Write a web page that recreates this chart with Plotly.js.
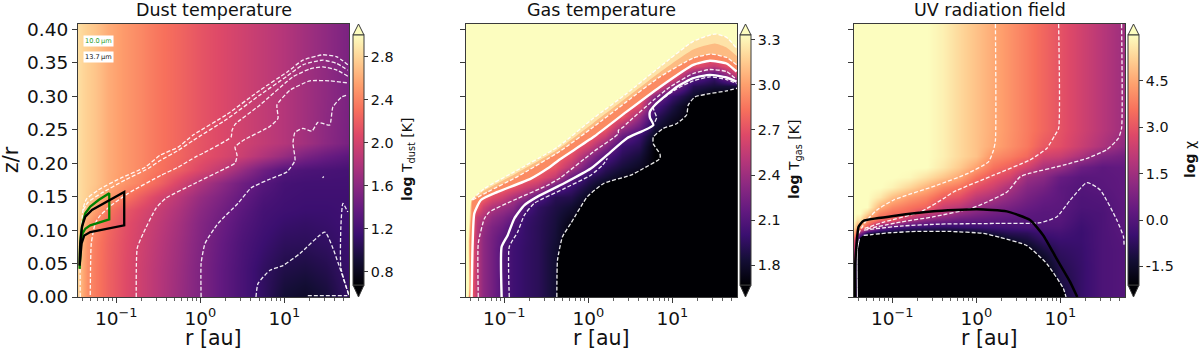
<!DOCTYPE html>
<html><head><meta charset="utf-8">
<script src="https://cdn.plot.ly/plotly-3.0.1.min.js"></script>
<style>html,body{margin:0;padding:0;background:#fff}</style></head>
<body><div id="chart" style="width:1200px;height:350px"></div>
<script>
// ---------- dust temperature panel: log T grid (each inner list is one column, bottom to top)
const dustLogR = [-1.455,-1.43,-1.40,-1.35,-1.25,-1.1,-0.9,-0.7,-0.5,-0.25,0,0.25,0.5,0.75,1,1.25,1.5,1.77];
const dustZr = [0,0.04,0.08,0.11,0.13,0.15,0.17,0.19,0.21,0.23,0.3,0.41];
const dustT = [
[2.78,2.78,2.80,2.82,2.84,2.85,2.85,2.85,2.85,2.85,2.85,2.85],
[2.68,2.68,2.70,2.75,2.80,2.83,2.83,2.83,2.83,2.83,2.83,2.83],
[2.58,2.58,2.60,2.68,2.75,2.80,2.80,2.80,2.80,2.80,2.80,2.80],
[2.46,2.46,2.48,2.55,2.68,2.76,2.77,2.77,2.77,2.77,2.77,2.77],
[2.36,2.36,2.37,2.42,2.54,2.68,2.72,2.72,2.72,2.72,2.72,2.72],
[2.22,2.22,2.23,2.26,2.34,2.52,2.60,2.60,2.60,2.60,2.60,2.60],
[2.08,2.08,2.09,2.11,2.16,2.34,2.48,2.50,2.50,2.50,2.50,2.50],
[1.96,1.96,1.98,2.00,2.05,2.18,2.38,2.42,2.42,2.42,2.42,2.42],
[1.84,1.84,1.86,1.89,1.93,2.02,2.24,2.32,2.33,2.33,2.33,2.33],
[1.68,1.69,1.71,1.74,1.78,1.85,2.02,2.20,2.24,2.24,2.24,2.24],
[1.52,1.52,1.54,1.56,1.60,1.66,1.80,2.04,2.13,2.14,2.14,2.14],
[1.36,1.36,1.38,1.42,1.46,1.52,1.62,1.88,2.04,2.06,2.06,2.06],
[1.22,1.22,1.24,1.28,1.32,1.37,1.44,1.66,1.94,1.98,1.98,1.98],
[1.08,1.08,1.14,1.18,1.20,1.24,1.30,1.44,1.80,1.90,1.90,1.90],
[0.90,0.98,1.06,1.12,1.16,1.18,1.20,1.28,1.66,1.82,1.82,1.82],
[0.85,0.95,1.05,1.10,1.14,1.16,1.18,1.24,1.50,1.72,1.72,1.72],
[0.92,1.00,1.08,1.12,1.14,1.16,1.18,1.22,1.40,1.60,1.62,1.62],
[1.10,1.12,1.14,1.16,1.16,1.16,1.18,1.20,1.32,1.48,1.50,1.50]];
// dust contour lines
const dustLines = [
 {r:[-1.428,-1.428,-1.392,-1.356,-1.214,-0.941,-0.655,-0.477,-0.263,-0.085,0.319,0.711,1.032,1.222,1.459,1.626,1.756],
  z:[0,0.08,0.133,0.146,0.160,0.178,0.194,0.212,0.224,0.242,0.273,0.309,0.336,0.354,0.362,0.359,0.347]},
 {r:[-1.392,-1.333,-1.178,-0.893,-0.62,-0.477,-0.263,-0.085,0.319,0.711,1.032,1.222,1.459,1.626,1.756],
  z:[0.130,0.142,0.155,0.175,0.192,0.204,0.219,0.234,0.266,0.302,0.330,0.347,0.354,0.349,0.339]},
 {r:[-1.309,-1.297,-1.25,-1.19,-1.059,-0.857,-0.465,-0.263,-0.061,0.034,0.366,0.378,0.414,0.711,1.103,1.305,1.459,1.626,1.756],
  z:[0.003,0.080,0.110,0.122,0.137,0.155,0.182,0.194,0.209,0.215,0.239,0.249,0.258,0.287,0.329,0.341,0.344,0.339,0.330]},
 {r:[-0.762,-0.75,-0.679,-0.525,-0.406,-0.061,0.295,0.414,0.438,0.414,0.509,0.83,0.925,0.913,1.067,1.305,1.54,1.756],
  z:[0,0.073,0.095,0.133,0.148,0.170,0.192,0.200,0.212,0.224,0.234,0.255,0.267,0.287,0.309,0.323,0.323,0.320]},
 {r:[0.01,0.01,0.057,0.212,0.449,0.604,0.806,1.032,1.127,1.103,1.127,1.222,1.329,1.4,1.54,1.578,1.685,1.756],
  z:[0,0.050,0.080,0.110,0.140,0.163,0.175,0.187,0.204,0.230,0.246,0.252,0.248,0.261,0.257,0.284,0.299,0.302]},
 {r:[0.663,0.687,0.83,0.984,1.186,1.483,1.578,1.768],
  z:[0,0.020,0.040,0.047,0.065,0.097,0.073,0.003]},
 {r:[1.768,1.673,1.673,1.697,1.756], z:[0.003,0.044,0.104,0.140,0.127]},
 {r:[1.455,1.47], z:[0.178,0.180]},
 {r:[1.28,1.75], z:[0.002,0.002]}
];
const greenBoxR = [-1.436,-1.431,-1.419,-1.396,-1.368,-1.309,-1.21,-1.083,-1.083,-1.21,-1.309,-1.368,-1.4,-1.419,-1.436];
const greenBoxZ = [0.042,0.075,0.095,0.112,0.125,0.135,0.145,0.155,0.116,0.111,0.107,0.102,0.095,0.080,0.042];
const blackBoxR = [-1.436,-1.428,-1.408,-1.368,-1.289,-1.151,-0.905,-0.905,-1.151,-1.309,-1.38,-1.412,-1.436];
const blackBoxZ = [0.047,0.080,0.105,0.120,0.130,0.140,0.157,0.107,0.101,0.097,0.092,0.080,0.047];

// ---------- gas temperature panel
const gasLogR = [-1.455,-1.39,-1.33,-1.25,-1.15,-1.03,-0.9,-0.75,-0.6,-0.4,-0.2,0,0.2,0.4,0.6,0.8,1,1.25,1.5,1.77];
const gasZr = [0,0.07,0.09,0.105,0.12,0.135,0.15,0.165,0.18,0.195,0.21,0.225,0.24,0.255,0.27,0.285,0.30,0.315,0.33,0.345,0.36,0.405];
const gasT = [
[2.8,2.8,2.8,2.8,2.8,2.8,2.8,2.8,2.8,2.8,2.8,2.8,2.8,2.8,2.8,2.8,2.8,2.8,2.8,2.8,2.8,2.8],
[2.8,2.8,2.8,2.8,2.8,2.8,2.8,2.8,2.8,2.8,2.8,2.8,2.8,2.8,2.8,2.8,2.8,2.8,2.8,2.8,2.8,2.8],
[2.5,2.5,2.5,2.5,2.55,2.78,2.8,2.8,2.8,2.8,2.8,2.8,2.8,2.8,2.8,2.8,2.8,2.8,2.8,2.8,2.8,2.8],
[2.34,2.34,2.34,2.38,2.47,2.6,2.8,2.8,2.8,2.8,2.8,2.8,2.8,2.8,2.8,2.8,2.8,2.8,2.8,2.8,2.8,2.8],
[2.23,2.23,2.24,2.27,2.35,2.47,2.68,2.8,2.8,2.8,2.8,2.8,2.8,2.8,2.8,2.8,2.8,2.8,2.8,2.8,2.8,2.8],
[2.1,2.1,2.14,2.2,2.28,2.4,2.6,2.8,2.8,2.8,2.8,2.8,2.8,2.8,2.8,2.8,2.8,2.8,2.8,2.8,2.8,2.8],
[2.02,2.02,2.03,2.07,2.18,2.32,2.46,2.72,2.8,2.8,2.8,2.8,2.8,2.8,2.8,2.8,2.8,2.8,2.8,2.8,2.8,2.8],
[1.97,1.97,1.98,1.98,2.0,2.08,2.36,2.6,2.8,2.8,2.8,2.8,2.8,2.8,2.8,2.8,2.8,2.8,2.8,2.8,2.8,2.8],
[1.93,1.93,1.93,1.93,1.94,1.96,2.1,2.5,2.72,2.8,2.8,2.8,2.8,2.8,2.8,2.8,2.8,2.8,2.8,2.8,2.8,2.8],
[1.82,1.82,1.84,1.85,1.86,1.88,1.92,2.15,2.55,2.72,2.8,2.8,2.8,2.8,2.8,2.8,2.8,2.8,2.8,2.8,2.8,2.8],
[1.7,1.7,1.7,1.7,1.76,1.82,1.9,2.0,2.18,2.5,2.68,2.8,2.8,2.8,2.8,2.8,2.8,2.8,2.8,2.8,2.8,2.8],
[1.67,1.67,1.67,1.67,1.68,1.7,1.76,1.85,1.95,2.18,2.38,2.62,2.8,2.8,2.8,2.8,2.8,2.8,2.8,2.8,2.8,2.8],
[1.67,1.67,1.67,1.67,1.67,1.67,1.67,1.7,1.85,1.95,2.1,2.33,2.58,2.8,2.8,2.8,2.8,2.8,2.8,2.8,2.8,2.8],
[1.67,1.67,1.67,1.67,1.67,1.67,1.67,1.67,1.75,1.85,1.93,2.0,2.18,2.45,2.75,2.8,2.8,2.8,2.8,2.8,2.8,2.8],
[1.67,1.67,1.67,1.67,1.67,1.67,1.67,1.67,1.67,1.78,1.85,1.93,2.0,2.22,2.4,2.68,2.8,2.8,2.8,2.8,2.8,2.8],
[1.67,1.67,1.67,1.67,1.67,1.67,1.67,1.67,1.67,1.67,1.67,1.67,1.75,1.85,1.95,2.08,2.3,2.8,2.8,2.8,2.8,2.8],
[1.67,1.67,1.67,1.67,1.67,1.67,1.67,1.67,1.67,1.67,1.67,1.67,1.67,1.72,1.8,1.88,2.0,2.35,2.8,2.8,2.8,2.8],
[1.67,1.67,1.67,1.67,1.67,1.67,1.67,1.67,1.67,1.67,1.67,1.67,1.67,1.67,1.67,1.67,1.8,1.92,2.2,2.7,2.8,2.8],
[1.67,1.67,1.67,1.67,1.67,1.67,1.67,1.67,1.67,1.67,1.67,1.67,1.67,1.67,1.67,1.67,1.67,1.85,2.0,2.55,2.8,2.8],
[1.67,1.67,1.67,1.67,1.67,1.67,1.67,1.67,1.67,1.67,1.67,1.67,1.67,1.67,1.67,1.67,1.67,1.85,2.55,2.8,2.8,2.8]];
const gasA = {r:[-1.388,-1.237,-0.881,-0.366,0.061,0.457,0.853,1.249,1.507,1.645,1.764], z:[0.145,0.162,0.187,0.224,0.267,0.304,0.344,0.382,0.393,0.388,0.372]};
const gasB = {r:[-1.376,-1.198,-0.841,-0.335,0.061,0.457,0.853,1.249,1.467,1.645,1.764], z:[0.145,0.157,0.18,0.218,0.254,0.292,0.329,0.357,0.363,0.358,0.347]};
const gasS1 = {r:[-1.388,-1.376,-1.356,-1.277,-1.079,-0.683,-0.485,-0.335,0.061,0.457,0.853,1.249,1.447,1.645,1.764], z:[0,0.08,0.125,0.145,0.157,0.177,0.192,0.206,0.239,0.277,0.314,0.347,0.353,0.349,0.337]};
const gasC = {r:[-1.309,-1.309,-1.237,-1.178,-0.881,-0.485,-0.335,0.061,0.358,0.358,0.418,0.457,0.774,0.972,1.249,1.447,1.645,1.764], z:[0,0.08,0.117,0.127,0.145,0.167,0.178,0.217,0.244,0.249,0.254,0.259,0.294,0.314,0.334,0.34,0.337,0.325]};
const gasS2 = {r:[-1.031,-1.031,-0.96,-0.881,-0.762,-0.604,-0.287,0.03,0.268,0.457,0.774,0.734,0.734,0.794,1.051,1.249,1.447,1.645,1.764], z:[0,0.075,0.092,0.117,0.137,0.15,0.17,0.192,0.217,0.237,0.257,0.268,0.277,0.287,0.314,0.327,0.332,0.328,0.322]};
const gasD = {r:[-0.94,-0.94,-0.841,-0.762,-0.643,-0.287,0.03,0.169,0.228], z:[0,0.075,0.097,0.122,0.14,0.162,0.182,0.197,0.207]};
const gasD2 = {r:[0.794,0.814,0.774,1.051,1.249,1.447,1.645,1.764], z:[0.262,0.268,0.284,0.311,0.323,0.329,0.325,0.319]};
const gasE = {r:[-0.374,-0.366,-0.307,-0.208,-0.01,0.188,0.505,0.655,0.853,0.853,0.774,0.774,0.893,1.051,1.17,1.19,1.269,1.447,1.645,1.77], z:[0,0.055,0.09,0.11,0.15,0.17,0.182,0.192,0.207,0.214,0.229,0.239,0.252,0.259,0.272,0.287,0.299,0.304,0.308,0.312]};
const gasMid = {r:[-1.388,-1.237,-0.881,-0.366,0.061,0.457,0.853,1.249,1.507,1.645,1.77], z:[0.145,0.159,0.183,0.22,0.26,0.298,0.336,0.37,0.379,0.373,0.36]};
const gasLeftA = {r:[-1.43,-1.425,-1.41], z:[0,0.08,0.125]};
const gasLeftMid = {r:[-1.425,-1.42,-1.40], z:[0,0.08,0.125]};
const gasLeftB = {r:[-1.42,-1.41,-1.39], z:[0,0.08,0.125]};

// ---------- UV radiation panel
const uvLogR = [-1.455,-1.42,-1.38,-1.3,-1.15,-1,-0.8,-0.6,-0.4,-0.2,0,0.2,0.4,0.6,0.8,1,1.25,1.5,1.77];
const uvZr = [0,0.04,0.07,0.085,0.095,0.105,0.115,0.125,0.135,0.15,0.165,0.18,0.195,0.21,0.225,0.25,0.41];
const uvChi = [
[2,2,2,3,4.5,5.5,6,6,6,6,6,6,6,6,6,6,6],
[-1.5,-1.5,-1.5,0,3,4.5,5.5,6,6,6,6,6,6,6,6,6,6],
[-2.1,-2.1,-2.1,-2.1,1,4.3,5.5,6,6,6,6,6,6,6,6,6,6],
[-2.1,-2.1,-2.1,-2.1,-1,3,4.3,5.3,6,6,6,6,6,6,6,6,6],
[-2.1,-2.1,-2.1,-2.1,-1.5,0.8,3.2,3.9,4.6,5.6,6,6,6,6,6,6,6],
[-2.1,-2.1,-2.1,-2.1,-1.7,0,3.1,3.5,4,4.9,5.8,6,6,6,6,6,6],
[-2.1,-2.1,-2.1,-2.1,-1.9,-0.4,1.7,3.3,3.6,4.3,5.3,5.9,6,6,6,6,6],
[-2.1,-2.1,-2.1,-2.1,-1.9,-0.6,1,2.3,3.3,3.9,4.7,5.5,6,6,6,6,6],
[-2.1,-2.1,-2.1,-2.1,-1.9,-0.7,0.7,1.8,2.3,3.2,4,5,5.6,5.75,5.75,5.75,5.75],
[-2.1,-2.1,-2.1,-2.1,-1.9,-0.6,0.4,1.3,2,2.9,3.6,4.5,5.1,5.35,5.35,5.35,5.35],
[-2.1,-2.1,-2.1,-2.1,-1.7,-0.5,0.3,0.9,1.4,2.1,2.9,3.6,4.4,4.95,4.95,4.95,4.95],
[-2.1,-2.1,-2.1,-2.1,-1.2,-0.4,0.2,0.6,1,1.7,2.4,3,3.6,4.1,4.5,4.55,4.55],
[-2.1,-2.1,-2.1,-1.5,-0.9,-0.3,0.1,0.4,0.7,1.2,1.7,2.5,3.2,3.8,4.1,4.15,4.15],
[-2.1,-2.1,-1.8,-1.2,-0.8,-0.2,0.05,0.2,0.4,0.7,1,1.4,2.5,3.4,3.7,3.75,3.75],
[-2.1,-2.1,-1.2,-0.7,-0.4,-0.1,0.05,0.1,0.2,0.4,0.7,1.1,1.7,2.5,3.1,3.35,3.35],
[-1.4,-1.0,-0.7,-0.5,-0.3,-0.1,0.05,0.1,0.15,0.2,0.2,0.4,1.4,2.3,2.85,2.95,2.95],
[-0.6,-0.6,-0.55,-0.5,-0.5,-0.45,-0.35,-0.25,-0.15,-0.1,0,0.1,0.5,1.7,2.3,2.45,2.45],
[-0.15,-0.15,-0.15,-0.15,-0.15,-0.15,-0.15,-0.15,-0.1,-0.02,0.1,0.15,0.2,0.9,1.75,1.95,1.95],
[0,0,0,0.05,0.1,0.15,0.2,0.2,0.2,0.25,0.25,0.25,0.3,0.6,1.1,1.41,1.41]];
const uvLines = [
 {r:[0.228,0.228,0.204,0.145,-0.113,-0.469,-0.984,-1.182,-1.321,-1.40], z:[0.408,0.234,0.219,0.202,0.184,0.167,0.145,0.13,0.112,0.095]},
 {r:[0.98,0.98,0.937,0.838,0.64,0.204,-0.271,-0.39,-0.667,-1.1,-1.34], z:[0.408,0.252,0.242,0.222,0.205,0.182,0.157,0.147,0.127,0.112,0.102]},
 {r:[1.729,1.729,1.69,1.551,1.313,1.036,0.64,0.525,0.366,0.129,-0.07,-0.505,-0.901,-1.297], z:[0.408,0.252,0.237,0.22,0.207,0.197,0.185,0.18,0.157,0.142,0.132,0.12,0.112,0.102]},
 {r:[-1.337,-0.901,-0.426,0.287,0.762,0.96,1.119,1.317,1.475,1.673,1.752,1.76], z:[0.1,0.106,0.109,0.11,0.111,0.12,0.145,0.171,0.16,0.115,0.09,0.075]}
];
const uvFloor = {r:[-1.34,-1.024,-0.707,-0.311,0.085,0.283,0.6,0.838,1.036,1.068], z:[0.092,0.096,0.098,0.098,0.095,0.089,0.077,0.05,0.013,0]};
const uvFloorLeft = {r:[-1.415,-1.415,-1.39], z:[0,0.07,0.087]};
const uvBlack = {r:[-1.44,-1.44,-1.43,-1.40,-1.34,-0.984,-0.509,0.006,0.363,0.64,0.798,0.957,1.115,1.202], z:[0,0.05,0.07,0.105,0.114,0.121,0.128,0.131,0.128,0.115,0.092,0.057,0.023,0]};

const tickR = [0.1,1,10];
const tickRText = ['10<sup>\u22121</sup>','10<sup>0</sup>','10<sup>1</sup>'];
const minorR = [0.04,0.05,0.06,0.07,0.08,0.09,0.2,0.3,0.4,0.5,0.6,0.7,0.8,0.9,2,3,4,5,6,7,8,9,20,30,40,50];
const tickZr = [0,0.05,0.10,0.15,0.20,0.25,0.30,0.35,0.40];
const dustTicks = [0.8,1.2,1.6,2.0,2.4,2.8];
const gasTicks = [1.8,2.1,2.4,2.7,3.0,3.3];
const uvTicks = [-1.5,0,1.5,3,4.5];
const uvTickText = ['-1.5','0.0','1.5','3.0','4.5'];
const titles = ['Dust temperature','Gas temperature','UV radiation field'];
const cbarLabels = ['<b>log</b> T<sub>dust</sub> [K]','<b>log</b> T<sub>gas</sub> [K]','<b>log</b> \u03c7'];
const magma = [[0,'#000004'],[0.1,'#140e36'],[0.2,'#3b0f70'],[0.3,'#641a80'],[0.4,'#8c2981'],[0.5,'#b73779'],[0.6,'#de4968'],[0.7,'#f7705c'],[0.8,'#fe9f6d'],[0.9,'#fecf92'],[1,'#fcfdbf']];

// ---------- layout helpers
const W = 1200, H = 350, fontName = 'DejaVu Sans, Arial, sans-serif', ink = '#3a3a3a';
const toR = a => a.map(v => Math.pow(10, v));
const px = X => X / W, py = Y => 1 - Y / H;
const panelLeft = [78, 466, 854], panelW = 271, panelTop = 24, panelBottom = 297;
const cbLeft = [353, 740, 1128], cbW = 11, cbTop = 35, cbBot = 285;
const labelX = [408, 795, 1190];
const xMin = -1.455, xMax = 1.77, yMax = 0.408;
const traces = [];

function heat(ax, lr, zr, z, zmin, zmax, i, tv, tt) {
  traces.push({type:'heatmap', x:toR(lr), y:zr, z:z, transpose:true, zsmooth:'best', zmin:zmin, zmax:zmax, xaxis:ax.x, yaxis:ax.y,
    colorscale:magma, hoverinfo:'skip',
    colorbar:{x:px(cbLeft[i]), xanchor:'left', xpad:0, y:py((cbTop+cbBot)/2), yanchor:'middle', ypad:0, lenmode:'pixels', len:cbBot-cbTop,
      thickness:cbW, thicknessmode:'pixels', outlinecolor:ink, outlinewidth:1, borderwidth:0, ticks:'outside', ticklen:4, tickcolor:ink, tickwidth:1,
      tickmode:'array', tickvals:tv, ticktext:tt, tickfont:{family:fontName,size:14.3,color:'#111'}}});
}
function area(ax, rr, zz, color) {
  traces.push({type:'scatter', mode:'lines', x:toR(rr), y:zz, fill:'toself', fillcolor:color, line:{width:0,color:color,shape:'spline',smoothing:0.5}, xaxis:ax.x, yaxis:ax.y, hoverinfo:'skip', showlegend:false});
}
function areaAbove(ax, rr, zz, color) {
  area(ax, [xMin,...rr,xMax,xMax,xMin], [zz[0],...zz,zz[zz.length-1],0.41,0.41], color);
}
function drawLine(ax, rr, zz, color, width, dash, straight) {
  traces.push({type:'scatter', mode:'lines', x:toR(rr), y:zz, line:{color:color,width:width,dash:dash||'solid',shape:straight?'linear':'spline',smoothing:0.5}, xaxis:ax.x, yaxis:ax.y, hoverinfo:'skip', showlegend:false});
}
const DASH = '4px,2px', LW = 1.3, WHITE = 'rgba(255,255,255,0.92)';
const A1 = {x:'x',y:'y'}, A2 = {x:'x2',y:'y2'}, A3 = {x:'x3',y:'y3'};

// dust
heat(A1, dustLogR, dustZr, dustT, 0.675, 3.0, 0, dustTicks, dustTicks.map(v=>v.toFixed(1)));
dustLines.forEach(l => drawLine(A1, l.r, l.z, WHITE, LW, DASH));
drawLine(A1, greenBoxR, greenBoxZ, '#008000', 2.3, null, true);
drawLine(A1, blackBoxR, blackBoxZ, '#000000', 2.3, null, true);

// gas
heat(A2, gasLogR, gasZr, gasT, 1.67, 3.33, 1, gasTicks, gasTicks.map(v=>v.toFixed(1)));
areaAbove(A2, gasS1.r, gasS1.z, '#fb8a62');
areaAbove(A2, [...gasLeftB.r,...gasB.r], [...gasLeftB.z,...gasB.z], '#fdbb82');
areaAbove(A2, [...gasLeftMid.r,...gasMid.r], [...gasLeftMid.z,...gasMid.z], '#fee3a8');
areaAbove(A2, [...gasLeftA.r,...gasA.r], [...gasLeftA.z,...gasA.z], '#fcfdbf');
area(A2, [...gasE.r,xMax,xMax], [...gasE.z,0.312,0], '#000004');
[gasA,gasB,gasC,gasD,gasD2,gasE].forEach(l => drawLine(A2, l.r, l.z, WHITE, LW, DASH));
drawLine(A2, gasS1.r, gasS1.z, '#ffffff', 2.4);
drawLine(A2, gasS2.r, gasS2.z, '#ffffff', 2.4);

// uv
heat(A3, uvLogR, uvZr, uvChi, -2.1, 5.98, 2, uvTicks, uvTickText);
area(A3, [...uvFloorLeft.r,...uvFloor.r], [...uvFloorLeft.z,...uvFloor.z], '#000004');
uvLines.forEach(l => drawLine(A3, l.r, l.z, WHITE, LW, DASH));
drawLine(A3, uvFloor.r, uvFloor.z, WHITE, LW, DASH);
drawLine(A3, uvFloorLeft.r, uvFloorLeft.z, '#ffffff', 1);
drawLine(A3, uvBlack.r, uvBlack.z, '#000000', 2.5);

const layout = {width:W, height:H, margin:{l:0,r:0,t:0,b:0,pad:0}, paper_bgcolor:'#fff', plot_bgcolor:'#fff', showlegend:false,
  font:{family:fontName,color:'#111'}, annotations:[], shapes:[]};
[['xaxis','yaxis','x','y'],['xaxis2','yaxis2','x2','y2'],['xaxis3','yaxis3','x3','y3']].forEach((n,i) => {
  layout[n[0]] = {type:'log', domain:[px(panelLeft[i]),px(panelLeft[i]+panelW)], range:[xMin,xMax], anchor:n[3],
    showline:true, mirror:true, linecolor:ink, linewidth:1, showgrid:false, zeroline:false,
    ticks:'outside', ticklen:5, tickcolor:ink, tickwidth:1, tickmode:'array', tickvals:tickR, ticktext:tickRText,
    tickfont:{family:fontName,size:18.5,color:'#111'},
    minor:{ticks:'outside', ticklen:2.5, tickcolor:ink, tickwidth:0.8, tickmode:'array', tickvals:minorR, showgrid:false}};
  layout[n[1]] = {domain:[py(panelBottom),py(panelTop)], range:[0,yMax], anchor:n[2], showline:true, mirror:true, linecolor:ink, linewidth:1,
    showgrid:false, zeroline:false, ticks:'outside', ticklen:5, tickcolor:ink, tickwidth:1, tickmode:'array', tickvals:tickZr,
    ticktext:tickZr.map(v=>v.toFixed(2)), showticklabels:i===0, tickfont:{family:fontName,size:18.5,color:'#111'}};
  const cx = panelLeft[i]+panelW/2;
  layout.annotations.push({xref:'paper',yref:'paper',x:px(cx),y:py(10),text:titles[i],showarrow:false,xanchor:'center',yanchor:'middle',font:{family:fontName,size:17.5,color:'#111'}});
  layout.annotations.push({xref:'paper',yref:'paper',x:px(cx),y:py(338),text:'r [au]',showarrow:false,xanchor:'center',yanchor:'middle',font:{family:fontName,size:20.5,color:'#111'}});
  layout.annotations.push({xref:'paper',yref:'paper',x:px(labelX[i]),y:py(160),text:cbarLabels[i],textangle:-90,showarrow:false,xanchor:'center',yanchor:'middle',font:{family:fontName,size:14,color:'#111'}});
  const l = cbLeft[i], r = l+cbW, m = (l+r)/2;
  layout.shapes.push({type:'path',xref:'paper',yref:'paper',path:`M ${px(l)} ${py(cbTop)} L ${px(m)} ${py(panelTop)} L ${px(r)} ${py(cbTop)} Z`,fillcolor:'#fcfdbf',line:{color:ink,width:1}});
  layout.shapes.push({type:'path',xref:'paper',yref:'paper',path:`M ${px(l)} ${py(cbBot)} L ${px(m)} ${py(panelBottom)} L ${px(r)} ${py(cbBot)} Z`,fillcolor:'#000004',line:{color:ink,width:1}});
});
layout.annotations.push({xref:'paper',yref:'paper',x:px(11),y:py(160),text:'z/r',textangle:-90,showarrow:false,xanchor:'center',yanchor:'middle',font:{family:fontName,size:20.5,color:'#111'}});
layout.annotations.push({xref:'paper',yref:'paper',x:px(98),y:py(41),text:'10.0\u2009\u00b5m',showarrow:false,xanchor:'center',yanchor:'middle',bgcolor:'#fff',borderpad:1,font:{family:fontName,size:6.6,color:'#2ca02c'}});
layout.annotations.push({xref:'paper',yref:'paper',x:px(98),y:py(56.5),text:'13.7\u2009\u00b5m',showarrow:false,xanchor:'center',yanchor:'middle',bgcolor:'#fff',borderpad:1,font:{family:fontName,size:6.6,color:'#111'}});

Plotly.newPlot('chart', traces, layout, {displayModeBar:false, staticPlot:true});
</script></body></html>
